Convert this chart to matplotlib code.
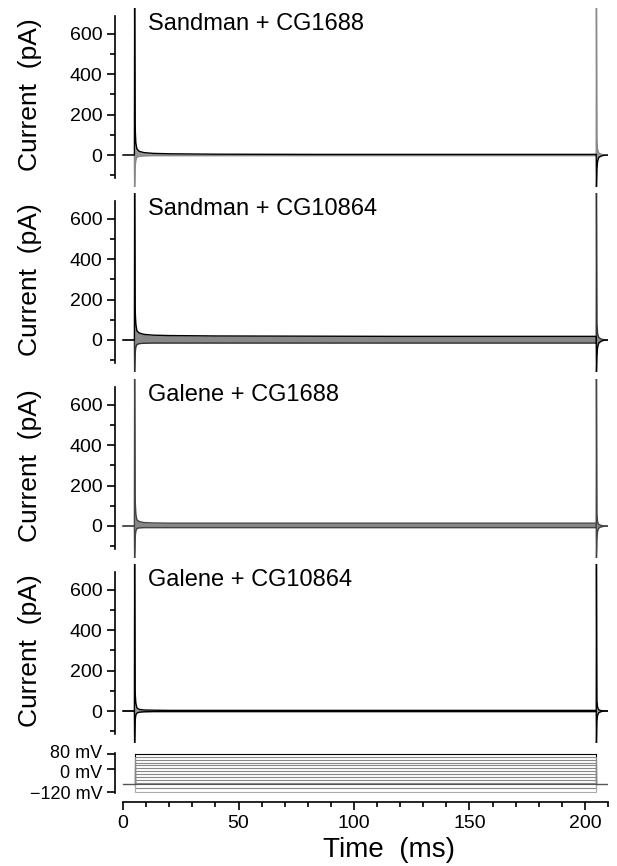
import matplotlib.pyplot as plt
import matplotlib.transforms as mtransforms
import numpy as np

plt.rcParams['font.family'] = ['Liberation Sans', 'DejaVu Sans']

# time knots (ms) shared by every current trace
t_ms = [0, 4.9, 5.0, 5.2, 5.5, 6.0, 7.0, 9.0, 13.0, 20.0, 40.0, 80.0, 120.0,
        160.0, 204.9, 205.0, 205.2, 205.5, 206.0, 207.0, 208.0, 210.0]

titles = ['Sandman + CG1688', 'Sandman + CG10864',
          'Galene + CG1688', 'Galene + CG10864']

# upper / lower trace of each panel (pA)
hi_pa = [
    [0, 0, 730, 150, 60, 30, 18, 12, 8, 6, 4, 3, 3, 3, 3, -165, -70, -30, -12, -5, -2, 0],
    [0, 0, 730, 160, 80, 45, 35, 28, 24, 22, 20, 19, 18, 18, 18, -165, -80, -35, -15, -6, -2, 0],
    [0, 0, 730, 140, 60, 30, 22, 17, 15, 14, 14, 14, 14, 14, 14, -165, -60, -25, -10, -4, -2, 0],
    [0, 0, 730, 100, 40, 15, 8, 5, 4, 3, 3, 3, 3, 3, 3, -160, -50, -20, -8, -3, -1, 0],
]
lo_pa = [
    [0, 0, -160, -60, -25, -10, -6, -4, -3, -3, -3, -3, -3, -3, -3, 730, 70, 25, 10, 4, 2, 0],
    [0, 0, -160, -70, -35, -22, -18, -16, -15, -15, -15, -15, -15, -15, -15, 730, 80, 30, 12, 5, 2, 0],
    [0, 0, -160, -60, -25, -12, -9, -8, -8, -8, -8, -8, -8, -8, -8, 730, 60, 20, 8, 3, 1, 0],
    [0, 0, -160, -50, -20, -10, -6, -4, -3, -3, -3, -3, -3, -3, -3, 730, 50, 18, 6, 2, 1, 0],
]
hi_col = ['black', 'black', '#444444', 'black']
lo_col = ['#888888', '#333333', '#444444', 'black']
band_col = ['#999999', '#888888', '#888888', '#999999']

# voltage protocol
v_hold = -80
v_levels = [80, 65, 50, 35, 20, 5, -10, -25, -40, -55, -70, -80, -100, -120]
t_step = [5.0, 205.0]
t_end = 210.0

W, H = 617, 866
fig = plt.figure(figsize=(W / 100, H / 100), dpi=100)
left, right = 115, 608
xlim = (-3.5, 210)

zero_px = [155, 340, 526, 711]
ppa = 0.2017  # pixels per pA

for i in range(4):
    top = zero_px[i] - 730 * ppa
    bot = zero_px[i] + 160 * ppa
    ax = fig.add_axes([left / W, 1 - bot / H, (right - left) / W, (bot - top) / H])
    ax.set_xlim(*xlim)
    ax.set_ylim(-160, 730)
    ax.fill_between(t_ms, lo_pa[i], hi_pa[i], color=band_col[i], lw=0)
    ax.plot(t_ms, lo_pa[i], color=lo_col[i], lw=1.0)
    ax.plot(t_ms, hi_pa[i], color=hi_col[i], lw=1.0)
    for s in ['top', 'right', 'bottom']:
        ax.spines[s].set_visible(False)
    ax.spines['left'].set_bounds(-115, 690)
    ax.spines['left'].set_linewidth(1.2)
    ax.set_xticks([])
    ax.set_yticks([0, 200, 400, 600])
    ax.set_yticks([-100, 100, 300, 500], minor=True)
    ax.tick_params(axis='y', which='major', length=6, width=1.2, labelsize=14, pad=3)
    ax.tick_params(axis='y', which='minor', length=3.5, width=1.2)
    ax.text(11, 650, titles[i], fontsize=17, va='center', ha='left')
    fig.text(30 / W, 1 - (zero_px[i] - 60) / H, 'Current  (pA)', rotation=90,
             fontsize=19, ha='center', va='center')

# voltage panel
vtop, vbot = 753, 793
axv = fig.add_axes([left / W, 1 - vbot / H, (right - left) / W, (vbot - vtop) / H])
axv.set_xlim(*xlim)
axv.set_ylim(-125, 85)
for v in v_levels:
    if v == 80:
        c = 'black'
    elif v == v_hold:
        c = '#555555'
    elif v == -120:
        c = '#aaaaaa'
    else:
        c = '#888888'
    axv.plot([t_step[0], t_step[0], t_step[1], t_step[1]], [v_hold, v, v, v_hold],
             color=c, lw=0.8)
axv.plot([0, t_step[0]], [v_hold, v_hold], color='#555555', lw=1.0)
axv.plot([t_step[1], t_end], [v_hold, v_hold], color='#555555', lw=1.0)
for s in ['top', 'right']:
    axv.spines[s].set_visible(False)
axv.spines['left'].set_bounds(-125, 85)
axv.spines['left'].set_linewidth(1.2)
axv.set_yticks([80, 0, -120])
axv.set_yticklabels(['80 mV', '0 mV', '\u2212120 mV'])
axv.tick_params(axis='y', length=6, width=1.2, labelsize=13, pad=3)
axv.spines['bottom'].set_position(('outward', 6.5))
axv.spines['bottom'].set_bounds(0, 210)
axv.spines['bottom'].set_linewidth(1.2)
axv.set_xticks([0, 50, 100, 150, 200])
axv.set_xticks(np.arange(0, 211, 10), minor=True)
axv.tick_params(axis='x', which='major', length=6, width=1.2, labelsize=14, pad=3)
axv.tick_params(axis='x', which='minor', length=3.5, width=1.2)

# nudge the two upper voltage labels apart a little
yt = axv.yaxis.get_major_ticks()
for tk, dy in zip(yt, [2.0, -1.5, 0.0]):
    lbl = tk.label1
    lbl.set_transform(lbl.get_transform() +
                      mtransforms.ScaledTranslation(0, dy / 72, fig.dpi_scale_trans))

fig.text(389 / W, 1 - 850 / H, 'Time  (ms)', fontsize=20, ha='center', va='center')

fig.savefig('out.png', dpi=100)
